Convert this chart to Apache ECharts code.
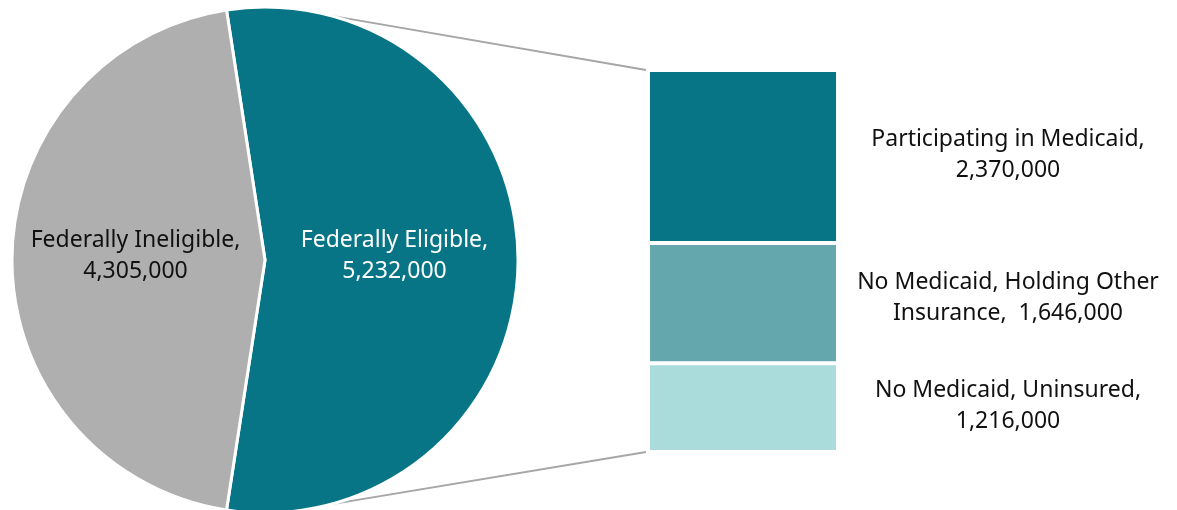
<!DOCTYPE html>
<html>
<head>
<meta charset="utf-8">
<script src="https://cdn.jsdelivr.net/npm/echarts@6/dist/echarts.min.js"></script>
<style>
html,body{margin:0;padding:0;background:#fff;}
#main{width:1177px;height:510px;}
</style>
</head>
<body>
<div id="main"></div>
<script>
// pie: total population split
var pieNames=['Federally Eligible','Federally Ineligible'];
var pieValues=[5232000,4305000];
// bar: breakdown of the eligible slice (top to bottom)
var barNames=['Participating in Medicaid','No Medicaid, Holding Other\nInsurance, ','No Medicaid, Uninsured'];
var barValues=[2370000,1646000,1216000];

var pieColors=['#077585','#afafaf'];
var barColors=['#077585','#64a8ae','#aadcdb'];
var FONT='Noto Sans';

var pieCenter=[265,260];
var pieRadius=253;

function fmt(v){return v.toLocaleString('en-US');}

var myChart=echarts.init(document.getElementById('main'));
var total=pieValues[0]+pieValues[1];
var startAngle=pieValues[0]/total*180;//eligible slice centred on the right
var barTotal=0;
for(var i=0;i<barValues.length;i++){barTotal+=barValues[i];}

var pieData=[];
for(var i=0;i<pieValues.length;i++){
    pieData.push({
        name:pieNames[i],value:pieValues[i],
        itemStyle:{color:pieColors[i]},
        label:{color:i==0?'#ffffff':'#111111'}
    });
}

var series=[{
    type:'pie',
    center:pieCenter,
    radius:pieRadius,
    startAngle:startAngle,
    clockwise:true,
    silent:true,
    animation:false,
    data:pieData,
    itemStyle:{borderColor:'#fff',borderWidth:3},
    label:{
        show:true,position:'inside',
        fontFamily:FONT,fontSize:23,lineHeight:31,offset:[0,-4],
        formatter:function(p){return p.name+',\n'+fmt(p.value);}
    },
    labelLine:{show:false}
}];

for(var i=0;i<barValues.length;i++){
    series.push({
        type:'bar',
        name:barNames[i],
        stack:'elig',
        barWidth:'100%',
        animation:false,
        silent:true,
        data:[barValues[i]],
        itemStyle:{color:barColors[i],borderColor:'#fff',borderWidth:2},
        label:{
            show:true,
            position:[360,'50%'],
            align:'center',verticalAlign:'middle',
            fontFamily:FONT,fontSize:23,lineHeight:31,color:'#111111',
            offset:[0,i==1?-5:-2],
            formatter:(function(n){
                return function(p){
                    if(n.indexOf('\n')>=0) return n+' '+fmt(p.value);
                    return n+',\n'+fmt(p.value);
                };
            })(barNames[i])
        }
    });
}

option={
    grid:{left:648,top:70,width:190,height:382},
    xAxis:{type:'category',data:['eligible'],show:false},
    yAxis:{type:'value',min:0,max:barTotal,inverse:true,show:false},
    series:series
};
myChart.setOption(option);

// connector lines from the pie edge to the bar corners
var rect=myChart.getModel().getComponent('grid').coordinateSystem.getRect();
var ang=75*Math.PI/180;
var px=pieCenter[0]+pieRadius*Math.cos(ang);
var pyTop=pieCenter[1]-pieRadius*Math.sin(ang);
var pyBot=pieCenter[1]+pieRadius*Math.sin(ang);
myChart.setOption({
    graphic:[
        {type:'line',shape:{x1:px,y1:pyTop,x2:rect.x-2,y2:rect.y},style:{stroke:'#a6a6a6',lineWidth:2},z:-1},
        {type:'line',shape:{x1:px,y1:pyBot,x2:rect.x-2,y2:rect.y+rect.height},style:{stroke:'#a6a6a6',lineWidth:2},z:-1}
    ]
});
</script>
</body>
</html>
